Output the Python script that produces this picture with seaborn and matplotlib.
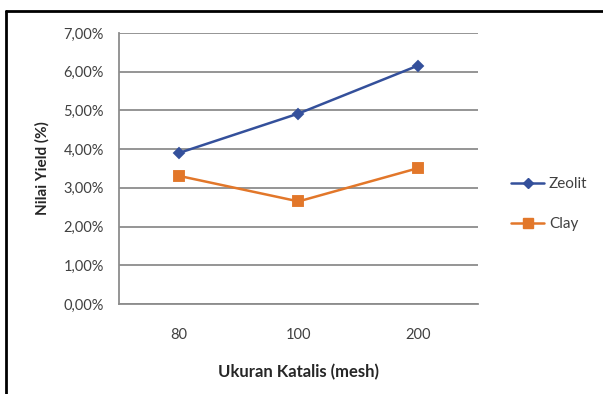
import matplotlib
matplotlib.use("Agg")
import matplotlib.pyplot as plt
from matplotlib.lines import Line2D
import seaborn as sns
import pandas as pd

# Data: yield (%) per catalyst size
mesh = ["80", "100", "200"]
zeolit = [3.90, 4.92, 6.16]
clay = [3.31, 2.65, 3.51]
series = ["Zeolit", "Clay"]
y_ticks = [0, 1, 2, 3, 4, 5, 6, 7]

df = pd.DataFrame({
    "mesh": mesh * 2,
    "yield": zeolit + clay,
    "series": [series[0]] * len(mesh) + [series[1]] * len(mesh),
})

sns.set_theme(style="white")
plt.rcParams["font.family"] = ["Lato", "DejaVu Sans"]

colors = {"Zeolit": "#34509B", "Clay": "#E2772A"}
markers = {"Zeolit": "D", "Clay": "s"}
msize = {"Zeolit": 5, "Clay": 6.5}

fig = plt.figure(figsize=(6.03, 3.94), dpi=100)
ax = fig.add_axes([119 / 603, 1 - 304 / 394, (478 - 119) / 603, (304 - 33) / 394])

for name in series:
    sub = df[df["series"] == name]
    sns.pointplot(data=sub, x="mesh", y="yield", order=mesh, color=colors[name],
                  marker=markers[name], markersize=msize[name],
                  linewidth=1.8, ax=ax, errorbar=None)

ax.set_xlim(-0.5, 2.5)
ax.set_ylim(0, 7)
ax.set_yticks(y_ticks)
ax.set_yticklabels([f"{v:.2f}%".replace(".", ",") for v in y_ticks])
ax.yaxis.grid(True, color="#8c8c8c", linewidth=1.3)
ax.set_axisbelow(True)

for side in ["top", "right"]:
    ax.spines[side].set_visible(False)
for side in ["left", "bottom"]:
    ax.spines[side].set_color("#8c8c8c")
    ax.spines[side].set_linewidth(1.3)

# Category boundary ticks on the x axis
ax.set_xticks([0, 1, 2])
ax.set_xticklabels(mesh)
ax.set_xticks([-0.5, 0.5, 1.5, 2.5], minor=True)
ax.tick_params(axis="x", which="major", length=0, pad=17, labelsize=10.5, labelcolor="#404040")
ax.tick_params(axis="x", which="minor", length=5, width=1.2, color="#8c8c8c", direction="out")
ax.tick_params(axis="y", length=6, width=1.2, color="#8c8c8c", direction="out", pad=5,
               labelsize=10.5, labelcolor="#404040")

ax.set_xlabel("Ukuran Katalis (mesh)", fontsize=12, fontweight="bold", color="#262626", labelpad=16)
ax.set_ylabel("Nilai Yield (%)", fontsize=11, fontweight="bold", color="#262626", labelpad=10)

handles = [
    Line2D([], [], color=colors[s], marker=markers[s], markersize=msize[s], linewidth=1.8)
    for s in series
]
fig.legend(handles, series, loc="center left", bbox_to_anchor=(497 / 603, 1 - 204 / 394),
           frameon=False, fontsize=11, handlelength=2.2, handletextpad=0.3,
           labelspacing=1.7, labelcolor="#404040")

# Outer chart frame: top and left edges
fig.add_artist(Line2D([6 / 603, 1.0], [1 - 10.5 / 394] * 2, color="black", linewidth=2,
                      transform=fig.transFigure))
fig.add_artist(Line2D([6 / 603] * 2, [0, 1 - 10.5 / 394], color="black", linewidth=2,
                      transform=fig.transFigure))

fig.savefig("out.png", dpi=100)
